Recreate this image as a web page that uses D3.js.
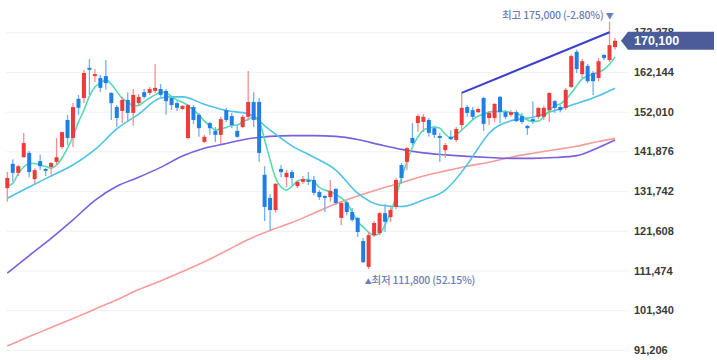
<!DOCTYPE html>
<html><head><meta charset="utf-8">
<script src="https://cdn.jsdelivr.net/npm/d3@7"></script>
<style>html,body{margin:0;padding:0;background:#fff;} svg{display:block;}</style>
</head><body>
<svg id="chart" width="717" height="360"></svg>
<script>
// ---------- data ----------
const openP = [
132500,138700,136400,140400,141500,134800,139400,137400,137900,139200,
143000,149900,145300,155300,155500,163200,161100,160600,161100,156800,
153200,152200,155000,151700,154200,157000,156800,157300,157800,157300,
155500,154200,152700,145300,153200,151200,144300,149100,147100,146100,
152400,150900,147100,148100,150700,154500,154500,135900,130000,126900,
137400,135300,136600,133000,134100,134600,134600,131500,130500,130200,
132300,124900,128900,126400,124900,119000,112400,120500,121000,126100,
125100,127700,138400,139200,145300,149100,149400,149900,147800,145800,
142200,145600,144800,148600,153200,152400,151900,155500,150400,150400,
155800,151900,151200,151900,150900,148400,150100,150700,150700,152400,
154700,153200,153000,158300,167300,161600,163700,161900,160600,166500,
165200,168500];
const closeP = [
135100,136400,138100,144000,136600,137100,138100,136900,138900,140400,
146800,145300,153200,153000,161900,162700,161600,158100,159300,154200,
150400,155000,151700,156300,155800,155800,157800,158100,156300,154700,
153700,153000,153500,153700,149900,147800,145600,147800,146100,150100,
149900,148600,145600,150700,154500,149900,141500,127700,126900,133600,
136600,136400,135100,134100,134800,134100,131300,130200,130000,131800,
128700,128700,126400,124400,121300,113600,120500,123600,126100,123900,
126900,134600,135100,142700,144000,150900,150700,146600,146100,145300,
143500,145000,147600,153000,151700,150700,152700,148900,151700,154000,
151900,150700,151900,149600,149400,147800,149600,153000,153000,156800,
153000,152400,157600,166200,162900,164900,159800,159800,164900,165700,
169000,170100];
const highP = [
136600,139900,138400,146600,142000,137600,141000,137600,139200,145300,
146900,151200,154200,156300,162700,165500,162900,161400,165200,157000,
153700,155800,157000,157800,156500,157800,158300,164200,159100,157800,
155800,154700,153700,154000,153700,151700,146100,149400,148100,150700,
153000,151700,148600,151200,162400,157000,155500,138100,131000,133800,
138400,137100,137100,134600,135600,136600,135600,132000,130700,134600,
132500,129000,129200,127400,125100,119800,121300,124100,126400,128400,
127700,135100,138900,143000,149100,151400,151400,150400,148400,146600,
144000,147300,148100,156800,153700,153200,153000,155800,152200,154200,
156000,152400,152400,152400,151700,148600,154700,153200,153500,157000,
155000,153700,158100,166700,167800,165500,164200,162400,165700,166700,
175000,170800];
const lowP = [
129000,134100,135600,140300,135300,133600,137100,135600,135900,138400,
142500,143500,143000,151200,154200,156300,159600,157000,157600,149900,
148100,149100,149400,148400,153700,155300,156300,156800,155800,151200,
152400,152200,152400,145000,148900,145600,144000,146100,144300,143800,
149400,147800,145300,147800,149900,148100,139200,124100,121600,126200,
135300,132800,133300,132500,133600,133300,130700,129500,126400,129000,
128200,123100,125600,123900,120000,113400,111800,120000,120500,121300,
123900,127200,133600,137100,143500,146800,146800,145600,145300,139200,
140200,144800,144300,147100,150700,149900,151700,147100,148600,149400,
149100,150100,150700,149400,148900,146100,148900,150100,149900,149400,
151700,151900,152400,158100,161900,160600,159300,156300,159800,165200,
164700,167900];

const ma5 = [
133000,133700,136200,137900,138800,138800,138400,138000,137600,138400,
140200,142700,145600,149400,152400,156000,158300,159300,160200,159000,
157200,155400,154600,153500,153600,154600,155500,156300,157000,156800,
155900,155000,154400,153600,152400,151200,149600,148400,147300,147600,
148000,148500,148600,149400,150000,150700,149600,144800,139700,135100,
132800,132000,133000,134300,134700,134700,134100,132700,132000,131600,
130900,130000,128700,126400,123900,122600,121200,120500,120900,123100,
126200,130500,135100,139200,143000,145600,147300,147800,148100,147800,
146300,145300,146100,147300,148600,149900,150900,151400,151900,152100,
152100,152100,151800,151600,150900,149900,149500,149600,150700,152300,
153500,154000,155100,156700,158600,160400,161100,161600,162100,162800,
164100,166000];

const ma20Idx = [0,4,8,12,16,20,24,28,30,32,36,40,44,48,52,56,60,64,68,72,76,80,84,86,88,92,96,100,104,108,111];
const ma20Val = [129900,132800,135600,138400,142300,147600,151400,155500,155800,155800,153900,152300,151500,147300,143300,140400,137100,131200,128200,127800,129500,132000,138500,142700,146500,149700,150600,152300,154100,156100,158000];

const ma60Idx = [0,4,8,12,16,20,24,28,32,36,40,44,48,52,56,60,64,68,72,76,80,84,88,92,96,100,104,108,111];
const ma60Val = [110800,115300,119700,124400,129400,133000,135300,137800,140700,142700,143900,145100,145700,145900,145900,145700,144900,143600,142400,141500,141000,140600,140300,140100,140100,140300,140800,142900,144800];

const ma120Idx = [0,4,8,12,16,20,24,28,32,36,40,44,48,52,56,60,64,68,72,76,80,84,88,92,96,100,104,108,111];
const ma120Val = [92200,94600,96900,99200,101600,104000,106600,108800,111200,113700,116500,119400,121700,123700,126100,128500,130500,132300,133900,135600,136900,138100,139100,140400,141400,142300,143200,144400,145200];

const trendIdx = [83, 110];
const trendVal = [156800, 172300];

const tickVals = [91206,101340,111474,121608,131742,141876,152010,162144,172278];
const lastPrice = 170100;
const highIdx = 110, highVal = 175000, highText = "최고 175,000 (-2.80%)";
const lowIdx = 66, lowVal = 111800, lowText = "최저 111,800 (52.15%)";

// ---------- drawing ----------
const svg = d3.select("#chart");
const x = d3.scaleLinear().domain([0, 111]).range([7.3, 615]);
const y = d3.scaleLinear().domain([88628, 180523]).range([360, 0]);

// axis + grid
const axis = d3.axisRight(y).tickValues(tickVals).tickFormat(d3.format(",")).tickSize(-622).tickPadding(6);
const gAxis = svg.append("g").attr("transform", "translate(628,0)").call(axis);
gAxis.select(".domain").remove();
gAxis.selectAll(".tick line").attr("stroke", "#eef1f6").attr("stroke-width", 1);
gAxis.selectAll(".tick text")
  .attr("fill", "#3a3a3a").attr("font-size", 11).attr("font-weight", "bold")
  .attr("font-family", "'Liberation Sans', Arial, sans-serif");

// moving averages
const lineGen = d3.line().x(d => x(d[0])).y(d => y(d[1])).curve(d3.curveMonotoneX);
function drawMA(idx, vals, color) {
  svg.append("path").datum(idx.map((k, j) => [k, vals[j]]))
    .attr("d", lineGen).attr("fill", "none").attr("stroke", color)
    .attr("stroke-width", 1.6).attr("stroke-linejoin", "round");
}
drawMA(ma120Idx, ma120Val, "#f59d9b");
drawMA(ma60Idx, ma60Val, "#7a5fe0");
drawMA(ma20Idx, ma20Val, "#4fc3e6");
drawMA(ma5.map((d, i) => i), ma5, "#52dcb4");

// candles
const data = openP.map((o, i) => ({i, o, c: closeP[i], h: highP[i], l: lowP[i]}));
const gC = svg.append("g");
gC.selectAll("line.wick").data(data).enter().append("line")
  .attr("x1", d => x(d.i)).attr("x2", d => x(d.i))
  .attr("y1", d => y(d.h)).attr("y2", d => y(d.l))
  .attr("stroke", d => d.c >= d.o ? "#f38f8f" : "#72b0f0")
  .attr("stroke-width", 1.3);
gC.selectAll("rect.body").data(data).enter().append("rect")
  .attr("x", d => x(d.i) - 2).attr("width", 4)
  .attr("y", d => y(Math.max(d.o, d.c)))
  .attr("height", d => Math.max(1.2, Math.abs(y(d.o) - y(d.c))))
  .attr("fill", d => d.c >= d.o ? "#ef3a3a" : "#1f7fe6");

// trend line
svg.append("line")
  .attr("x1", x(trendIdx[0])).attr("y1", y(trendVal[0]))
  .attr("x2", x(trendIdx[1])).attr("y2", y(trendVal[1]))
  .attr("stroke", "#3b3fc9").attr("stroke-width", 2);

// high / low annotations
const annColor = "#6b7fb6";
const hiT = svg.append("text")
  .attr("x", x(highIdx) + 4).attr("y", 19).attr("text-anchor", "end")
  .attr("fill", annColor).attr("font-size", 10.5).attr("font-weight", 500)
  .attr("letter-spacing", -0.2)
  .attr("font-family", "'Noto Sans CJK KR', 'Noto Sans', sans-serif");
hiT.append("tspan").text(highText + " ");
hiT.append("tspan").attr("font-size", 8).text("▼");

const loT = svg.append("text")
  .attr("x", x(lowIdx) - 4).attr("y", y(lowVal) + 15).attr("text-anchor", "start")
  .attr("fill", annColor).attr("font-size", 10.5).attr("font-weight", 500)
  .attr("letter-spacing", -0.2)
  .attr("font-family", "'Noto Sans CJK KR', 'Noto Sans', sans-serif");
loT.append("tspan").attr("font-size", 7).text("▲");
loT.append("tspan").text(lowText);

// last price box
const py = y(lastPrice);
svg.append("path")
  .attr("d", `M621,${py} L628,${py-9} L714,${py-9} L714,${py+9} L628,${py+9} Z`)
  .attr("fill", "#4a5d9a");
svg.append("text").attr("x", 634).attr("y", py + 4.5)
  .attr("fill", "#fff").attr("font-size", 12.5).attr("font-weight", "bold")
  .attr("font-family", "'Liberation Sans', Arial, sans-serif")
  .text(d3.format(",")(lastPrice));
</script>
</body></html>
